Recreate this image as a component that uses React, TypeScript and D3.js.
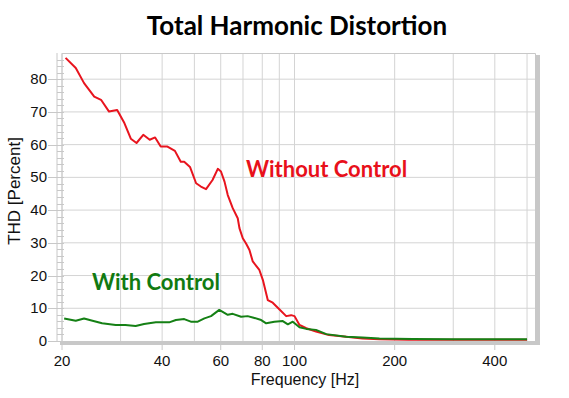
import React, { useEffect, useRef } from 'react';
import * as d3 from 'd3';

// Without control (red)
const withoutFreq = [20.5, 22, 23.3, 25, 26.2, 27.7, 29.3, 30.8, 32.2, 33.5, 35.1, 36.7, 38.1, 39.6, 41.5, 43.7, 45.5, 46.6, 48.5, 50.6, 52.3, 54.2, 56.7, 58.8, 60.1, 61.6, 63, 65.2, 67.5, 68.3, 69.9, 71.5, 73.2, 74.9, 78.4, 80.3, 83.1, 86, 90, 94.4, 97.7, 100, 103.5, 108.5, 116, 127, 143, 160, 180, 220, 300, 400, 500];
const withoutThd = [86.5, 83.4, 78.8, 74.7, 73.7, 70.1, 70.6, 66.6, 61.8, 60.5, 63.0, 61.5, 62.2, 59.4, 59.4, 58.1, 54.8, 54.8, 53.2, 48.2, 47.2, 46.4, 49.2, 52.6, 51.8, 48.7, 44.6, 40.6, 37.5, 34.5, 31.4, 29.8, 27.8, 24.3, 21.7, 18.7, 12.5, 11.7, 9.7, 7.6, 7.9, 7.6, 4.9, 3.9, 2.9, 1.8, 1.3, 0.8, 0.5, 0.4, 0.4, 0.4, 0.4];

// With control (green)
const withFreq = [20.3, 22, 23.3, 24.7, 26.4, 29, 31, 33.3, 35.3, 38.3, 42, 44, 46.6, 48.8, 51.2, 53.6, 56.1, 59.4, 63, 65.2, 69.1, 72.3, 74.9, 79.4, 82.2, 87, 92.2, 95.5, 98.8, 103.5, 108.5, 116, 124.6, 143, 160, 180, 226, 300, 400, 500];
const withThd = [6.9, 6.2, 6.9, 6.2, 5.4, 4.9, 4.9, 4.6, 5.2, 5.7, 5.7, 6.4, 6.7, 5.9, 5.9, 6.9, 7.6, 9.5, 8.0, 8.3, 7.4, 7.6, 7.2, 6.4, 5.4, 5.9, 6.1, 5.1, 5.9, 4.2, 3.7, 3.4, 2.1, 1.3, 1.1, 0.8, 0.6, 0.5, 0.5, 0.5];

const xTickLabels = [20, 40, 60, 80, 100, 200, 400];
const xGrid = [20, 30, 40, 50, 60, 70, 80, 90, 100, 200, 300, 400, 500];
const yTicks = [0, 10, 20, 30, 40, 50, 60, 70, 80];

const App = () => {
  const svgRef = useRef<SVGSVGElement>(null);

  useEffect(() => {
    const svg = d3.select(svgRef.current);
    svg.selectAll('*').remove();

    const left = 62;
    const right = 536;
    const top = 53;
    const bottom = 341;

    const x = d3.scaleLog().domain([20, 532]).range([left, right]);
    const y = d3.scaleLinear().domain([0, 88]).range([bottom, top]);

    // drop shadow of the frame
    svg.append('rect').attr('x', left - 2).attr('y', bottom).attr('width', right - left + 6).attr('height', 4).attr('fill', '#c8c8c8');
    svg.append('rect').attr('x', right).attr('y', top + 2).attr('width', 4).attr('height', bottom - top + 2).attr('fill', '#c8c8c8');

    // grid
    svg.append('g')
      .selectAll('line')
      .data(xGrid)
      .enter()
      .append('line')
      .attr('x1', (d) => x(d))
      .attr('x2', (d) => x(d))
      .attr('y1', top)
      .attr('y2', bottom)
      .attr('stroke', '#d4d4d4');
    svg.append('g')
      .selectAll('line')
      .data(yTicks.slice(1))
      .enter()
      .append('line')
      .attr('x1', left)
      .attr('x2', right)
      .attr('y1', (d) => y(d))
      .attr('y2', (d) => y(d))
      .attr('stroke', '#d4d4d4');

    // frame
    svg.append('path')
      .attr('d', `M${left},${bottom}V${top + 0.5}H${right - 0.5}V${bottom}`)
      .attr('fill', 'none')
      .attr('stroke', '#c8c8c8');

    // y ladder axis with minor ticks
    const ax = svg.append('g');
    ax.append('line').attr('x1', left - 5).attr('x2', left - 5).attr('y1', top).attr('y2', bottom).attr('stroke', '#c8c8c8');
    ax.selectAll('line.minor')
      .data(d3.range(0, 88, 2))
      .enter()
      .append('line')
      .attr('class', 'minor')
      .attr('x1', left - 5)
      .attr('x2', left + 2)
      .attr('y1', (d) => Math.round(y(d)) + 0.5)
      .attr('y2', (d) => Math.round(y(d)) + 0.5)
      .attr('stroke', '#c8c8c8');
    ax.selectAll('line.major')
      .data(yTicks)
      .enter()
      .append('line')
      .attr('class', 'major')
      .attr('x1', 48)
      .attr('x2', left)
      .attr('y1', (d) => Math.round(y(d)) + 0.5)
      .attr('y2', (d) => Math.round(y(d)) + 0.5)
      .attr('stroke', '#c8c8c8');
    ax.selectAll('text')
      .data(yTicks)
      .enter()
      .append('text')
      .attr('x', 47)
      .attr('y', (d) => y(d) + 5)
      .attr('text-anchor', 'end')
      .attr('font-family', 'Liberation Sans, Arial, sans-serif')
      .attr('font-size', 15)
      .attr('fill', '#111')
      .text((d) => d);

    // x ticks
    const bx = svg.append('g');
    bx.selectAll('line')
      .data(xTickLabels)
      .enter()
      .append('line')
      .attr('x1', (d) => x(d))
      .attr('x2', (d) => x(d))
      .attr('y1', bottom + 4)
      .attr('y2', bottom + 9)
      .attr('stroke', '#c8c8c8');
    bx.selectAll('text')
      .data(xTickLabels)
      .enter()
      .append('text')
      .attr('x', (d) => x(d))
      .attr('y', 366)
      .attr('text-anchor', 'middle')
      .attr('font-family', 'Liberation Sans, Arial, sans-serif')
      .attr('font-size', 15)
      .attr('fill', '#111')
      .text((d) => d);

    // axis labels
    svg.append('text')
      .attr('x', 305)
      .attr('y', 385)
      .attr('text-anchor', 'middle')
      .attr('font-family', 'Liberation Sans, Arial, sans-serif')
      .attr('font-size', 16)
      .attr('fill', '#111')
      .text('Frequency [Hz]');
    svg.append('text')
      .attr('transform', 'translate(20, 191) rotate(-90)')
      .attr('text-anchor', 'middle')
      .attr('font-family', 'Liberation Sans, Arial, sans-serif')
      .attr('font-size', 17)
      .attr('fill', '#111')
      .text('THD [Percent]');

    // title
    svg.append('text')
      .attr('x', 297)
      .attr('y', 35)
      .attr('text-anchor', 'middle')
      .attr('font-family', 'Lato, sans-serif')
      .attr('font-weight', 'bold')
      .attr('font-size', 26)
      .attr('fill', '#000')
      .text('Total Harmonic Distortion');

    // series
    const mk = (freqs: number[], vals: number[]) =>
      d3
        .line<number>()
        .x((d) => x(d))
        .y((d, i) => y(vals[i]))(freqs);

    svg.append('path')
      .attr('d', mk(withoutFreq, withoutThd) as string)
      .attr('fill', 'none')
      .attr('stroke', '#e8141e')
      .attr('stroke-width', 2)
      .attr('stroke-linejoin', 'round');
    svg.append('path')
      .attr('d', mk(withFreq, withThd) as string)
      .attr('fill', 'none')
      .attr('stroke', '#158015')
      .attr('stroke-width', 2)
      .attr('stroke-linejoin', 'round');

    // annotations
    svg.append('text')
      .attr('x', 246)
      .attr('y', 177)
      .attr('font-family', 'Lato, sans-serif')
      .attr('font-weight', 'bold')
      .attr('font-size', 22)
      .attr('fill', '#e8101a')
      .text('Without Control');
    svg.append('text')
      .attr('x', 92)
      .attr('y', 290)
      .attr('font-family', 'Lato, sans-serif')
      .attr('font-weight', 'bold')
      .attr('font-size', 22)
      .attr('fill', '#117a11')
      .text('With Control');
  }, []);

  return (
    <div className="thd-chart">
      <svg ref={svgRef} width={569} height={398} style={{ position: 'absolute', left: 0, top: 0, background: '#fff' }}></svg>
    </div>
  );
};

export default App;
